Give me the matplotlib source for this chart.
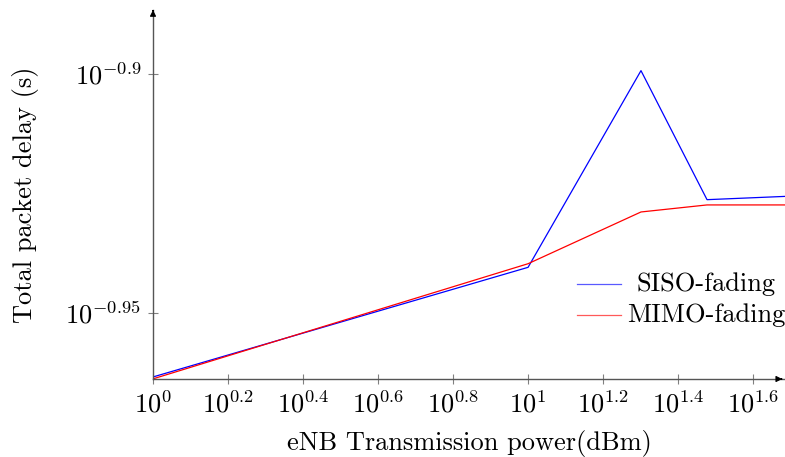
import numpy as np
import matplotlib
matplotlib.use("Agg")
import matplotlib.pyplot as plt
from matplotlib.ticker import FixedLocator, FuncFormatter, NullLocator

plt.rcParams["font.family"] = "serif"
plt.rcParams["font.serif"] = ["cmr10", "DejaVu Serif"]
plt.rcParams["mathtext.fontset"] = "cm"
plt.rcParams["axes.unicode_minus"] = False
plt.rcParams["axes.formatter.use_mathtext"] = True

# transmission power (dBm) and mean packet delay (s)
power = [1, 10, 20, 30, 50]
siso_delay = [0.1088, 0.1147, 0.1261, 0.1185, 0.1187]
mimo_delay = [0.1087, 0.1149, 0.1178, 0.1182, 0.1182]
series_names = ["SISO-fading", "MIMO-fading"]
series_colors = ["blue", "red"]

x_ticks = [10 ** e for e in [0, 0.2, 0.4, 0.6, 0.8, 1.0, 1.2, 1.4, 1.6]]
y_ticks = [10 ** -0.95, 10 ** -0.9]

FS = 19

fig = plt.figure(figsize=(7.85, 4.57), dpi=100)
ax = fig.add_axes([153 / 785, 78 / 457, 632 / 785, 369 / 457])

for ys, name, c in zip([siso_delay, mimo_delay], series_names, series_colors):
    ax.plot(power, ys, color=c, lw=0.9, label=name)

ax.set_xscale("log")
ax.set_yscale("log")
ax.set_xlim(1, 10 ** 1.685)
ax.set_ylim(10 ** -0.9638, 10 ** -0.8866)

def pow_label(v, pos):
    e = np.log10(v)
    return r"$10^{%s}$" % f"{e:.2f}".rstrip("0").rstrip(".")

for axis, ticks in ((ax.xaxis, x_ticks), (ax.yaxis, y_ticks)):
    axis.set_major_locator(FixedLocator(ticks))
    axis.set_major_formatter(FuncFormatter(pow_label))
    axis.set_minor_locator(NullLocator())

ax.tick_params(direction="inout", length=7, width=0.8, color="#808080",
               labelsize=FS, pad=5)

for side in ("top", "right"):
    ax.spines[side].set_visible(False)
for side in ("left", "bottom"):
    ax.spines[side].set_color("#555555")
    ax.spines[side].set_linewidth(1.0)

# axis arrows
ax.annotate("", xy=(1.0, 0), xytext=(0.99, 0), xycoords="axes fraction",
            arrowprops=dict(arrowstyle="-|>", color="black", lw=0.8,
                            mutation_scale=9))
ax.annotate("", xy=(0, 1.0), xytext=(0, 0.99), xycoords="axes fraction",
            arrowprops=dict(arrowstyle="-|>", color="black", lw=0.8,
                            mutation_scale=9))

ax.set_xlabel("eNB Transmission power(dBm)", fontsize=FS, labelpad=9)
ax.set_ylabel("Total packet delay (s)", fontsize=FS, labelpad=19)

# legend with centred entries, no frame
for i, (name, c) in enumerate(zip(series_names, series_colors)):
    yk = 0.2575 - i * 0.0845
    ax.plot([0.671, 0.741], [yk, yk], color=c, lw=0.9, alpha=0.65,
            transform=ax.transAxes, clip_on=False)
    ax.text(0.875, yk, name, fontsize=FS, ha="center", va="center",
            transform=ax.transAxes)

fig.savefig("out.png", dpi=100)
